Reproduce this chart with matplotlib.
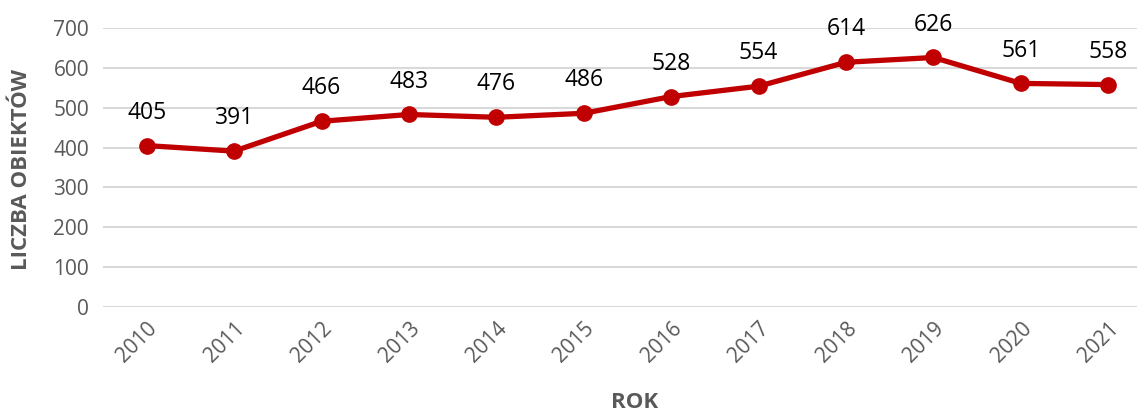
import numpy as np
import matplotlib.pyplot as plt

plt.rcParams['font.family'] = ['Open Sans', 'DejaVu Sans']

years = ['2010', '2011', '2012', '2013', '2014', '2015',
         '2016', '2017', '2018', '2019', '2020', '2021']
counts = [405, 391, 466, 483, 476, 486, 528, 554, 614, 626, 561, 558]

fig = plt.figure(figsize=(11.37, 4.12), dpi=100)
ax = fig.add_axes([103 / 1137, 1 - 307 / 412, (1152 - 103) / 1137, 279 / 412])

x = np.arange(len(years))
ax.plot(x, counts, color='#C00000', lw=3.8, marker='o', ms=11, zorder=3)

for xi, v in zip(x, counts):
    ax.annotate(str(v), (xi, v), xytext=(0, 15), textcoords='offset points',
                ha='center', va='bottom', fontsize=16.5, color='black')

ax.set_xlim(-0.5, len(years) - 0.5)
ax.set_ylim(0, 700)
ax.set_yticks(np.arange(0, 701, 100))
ax.set_xticks(x)
ax.set_xticklabels(years, rotation=45, ha='right', rotation_mode='anchor')
ax.tick_params(axis='both', length=0, labelsize=15, colors='#595959')
ax.tick_params(axis='x', pad=8)
ax.tick_params(axis='y', pad=10)
ax.grid(axis='y', color='#D9D9D9', lw=1.5)
ax.set_axisbelow(True)
for s in ax.spines.values():
    s.set_visible(False)

fig.text(635 / 1137, 1 - 403 / 412, 'ROK', ha='center', va='center',
         fontsize=16, fontweight='bold', color='#595959')
fig.text(22 / 1137, 1 - 169 / 412, 'LICZBA OBIEKTÓW', ha='center', va='center',
         rotation=90, fontsize=16, fontweight='bold', color='#595959')

fig.savefig('out.png', dpi=100)
